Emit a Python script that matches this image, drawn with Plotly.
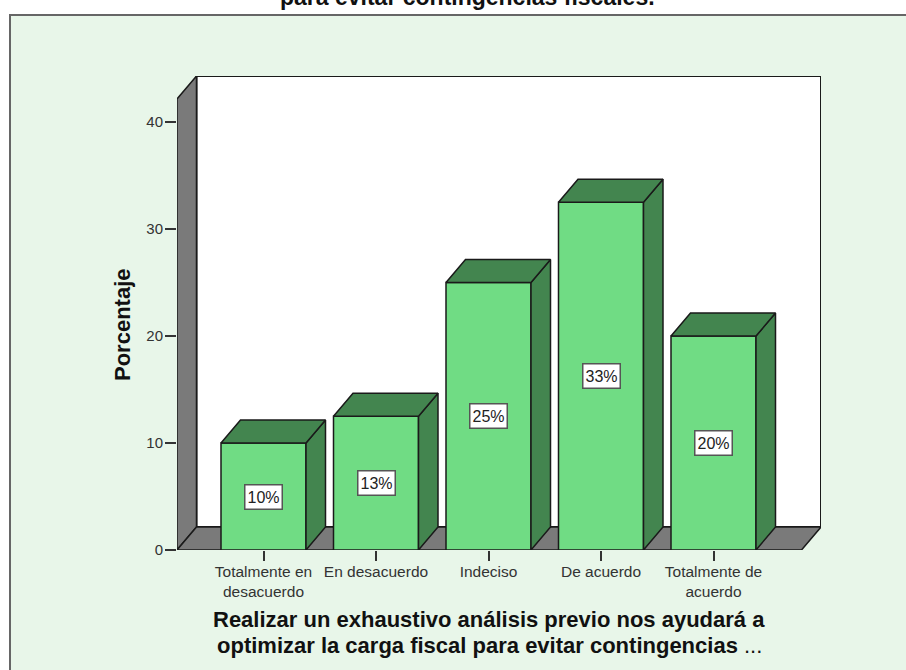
import plotly.graph_objects as go

categories = ["Totalmente en<br>desacuerdo", "En desacuerdo", "Indeciso", "De acuerdo", "Totalmente de<br>acuerdo"]
percent = [10, 12.5, 25, 32.5, 20]
bar_labels = ["10%", "13%", "25%", "33%", "20%"]
y_ticks = [0, 10, 20, 30, 40]
x_title_1 = "Realizar un exhaustivo análisis previo nos ayudará a"
x_title_2 = "optimizar la carga fiscal para evitar contingencias"
x_title_end = " ..."
y_title = "Porcentaje"
cut_title = "para evitar contingencias fiscales."

W, H = 906, 670
L, R, T, B = 177, 821, 76, 550          # plot rectangle in px
X0, DX = 263.5, 112.5                   # px of first category, px per category
YS = 10.7                               # px per percent
DEPTH_X, DEPTH_Y = 19.5 / DX, 23 / YS   # 3D depth in data units
BAR_W = 85 / DX

xmin = (L - X0) / DX
xmax = (R - X0) / DX
ymax = (B - T) / YS
front_right = xmax - DEPTH_X

FRONT, SIDE, WALL, PANEL = "#70DC84", "#43854F", "#7A7A7A", "#E8F6E9"
INK = "#1A1A1A"
FONT = "Liberation Sans"
xs = list(range(len(percent)))

fig = go.Figure()
fig.add_trace(go.Bar(x=xs, y=percent, width=BAR_W, marker=dict(color=FRONT, line=dict(color=INK, width=1.5)),
                     hoverinfo="skip", showlegend=False))

for i, v in zip(xs, percent):
    l, r = i - BAR_W / 2, i + BAR_W / 2
    fig.add_trace(go.Scatter(x=[r, r + DEPTH_X, r + DEPTH_X, r, r], y=[0, DEPTH_Y, v + DEPTH_Y, v, 0],
                             fill="toself", fillcolor=SIDE, mode="lines", line=dict(color=INK, width=1.5),
                             hoverinfo="skip", showlegend=False))
    fig.add_trace(go.Scatter(x=[l, r, r + DEPTH_X, l + DEPTH_X, l], y=[v, v, v + DEPTH_Y, v + DEPTH_Y, v],
                             fill="toself", fillcolor=SIDE, mode="lines", line=dict(color=INK, width=1.5),
                             hoverinfo="skip", showlegend=False))

def px(x): return (x - L) / (R - L)
def py(y): return (B - y) / (B - T)

shapes = [
    dict(type="rect", xref="paper", yref="paper", x0=px(10), x1=px(W + 10), y0=py(H + 10), y1=py(15),
         fillcolor=PANEL, line=dict(color="#666666", width=2), layer="below"),
    dict(type="path", xref="x", yref="y", layer="below", fillcolor="white", line=dict(color=INK, width=2),
         path=f"M {xmin+DEPTH_X} {DEPTH_Y} L {xmin+DEPTH_X} {ymax} L {xmax} {ymax} L {xmax} {DEPTH_Y} Z"),
    dict(type="path", xref="x", yref="y", layer="below", fillcolor=WALL, line=dict(color=INK, width=1.5),
         path=f"M {xmin} 0 L {xmin+DEPTH_X} {DEPTH_Y} L {xmin+DEPTH_X} {ymax} L {xmin} {ymax-DEPTH_Y} Z"),
    dict(type="path", xref="x", yref="y", layer="below", fillcolor=WALL, line=dict(color=INK, width=1.5),
         path=f"M {xmin} 0 L {xmin+DEPTH_X} {DEPTH_Y} L {xmax} {DEPTH_Y} L {front_right} 0 Z"),
]

annotations = [
    dict(x=i, y=v / 2, text=t, showarrow=False, bgcolor="white", bordercolor="#555555", borderwidth=1.5,
         width=36, height=23, borderpad=0, font=dict(family=FONT, size=16, color="#222222"))
    for i, v, t in zip(xs, percent, bar_labels)
]
annotations += [
    dict(xref="paper", yref="paper", x=px(467), y=py(-3), text=f"<b>{cut_title}</b>", showarrow=False,
         font=dict(family=FONT, size=23, color="#111111"), yanchor="middle"),
    dict(xref="paper", yref="paper", x=px(489), y=py(619), text=f"<b>{x_title_1}</b>", showarrow=False,
         font=dict(family=FONT, size=22, color="#111111"), yanchor="middle"),
    dict(xref="paper", yref="paper", x=px(489), y=py(645), text=f"<b>{x_title_2}</b>{x_title_end}", showarrow=False,
         font=dict(family=FONT, size=22, color="#111111"), yanchor="middle"),
    dict(xref="paper", yref="paper", x=px(122), y=py(325), text=f"<b>{y_title}</b>", showarrow=False, textangle=-90,
         font=dict(family=FONT, size=22, color="#111111"), yanchor="middle", xanchor="center"),
]

fig.update_layout(
    width=W, height=H, margin=dict(l=L, r=W - R, t=T, b=H - B, pad=0),
    paper_bgcolor="white", plot_bgcolor="rgba(0,0,0,0)", shapes=shapes, annotations=annotations, showlegend=False,
    xaxis=dict(range=[xmin, xmax], tickmode="array", tickvals=xs, ticktext=categories, ticks="outside", ticklen=10,
               tickcolor="#333333", tickwidth=1.5, showgrid=False, zeroline=False, showline=False,
               ticklabelstandoff=-3,
               tickfont=dict(family=FONT, size=15.5, color="#333333"), tickangle=0),
    yaxis=dict(range=[0, ymax], tickmode="array", tickvals=y_ticks, ticks="outside", ticklen=11,
               tickcolor="#333333", tickwidth=1.5, showgrid=False, zeroline=False, showline=False,
               ticklabelstandoff=-1,
               tickfont=dict(family=FONT, size=15, color="#333333")),
)
fig.write_html("out.html", config={"displayModeBar": False},
               post_script="document.body.style.margin='0';document.body.style.overflow='hidden';")
